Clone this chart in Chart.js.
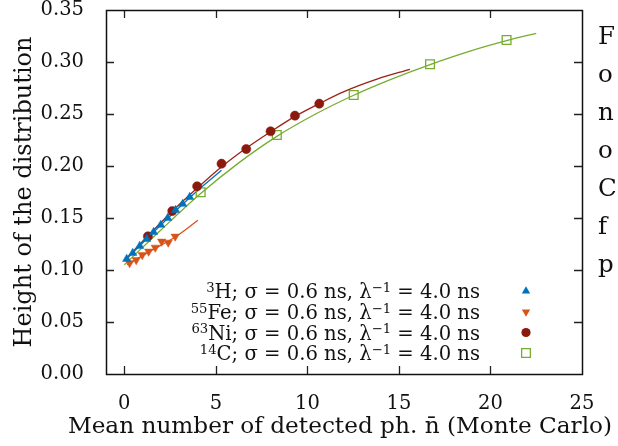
<!DOCTYPE html>
<html><head><meta charset="utf-8">
<script src="https://cdn.jsdelivr.net/npm/chart.js@4.4.0/dist/chart.umd.min.js"></script>
<style>html,body{margin:0;padding:0;background:#fff;overflow:hidden}canvas{display:block}</style>
</head><body>
<canvas id="c" width="618" height="446"></canvas>
<script>
// ---- data ----
const xTicks = [0, 5, 10, 15, 20, 25];
const yTicks = [0, 0.05, 0.10, 0.15, 0.20, 0.25, 0.30, 0.35];

// 3H (blue up-triangles)
const h3X = [0.13, 0.46, 0.84, 1.22, 1.60, 1.99, 2.37, 2.80, 3.19, 3.57];
const h3Y = [0.1106, 0.1163, 0.1231, 0.1298, 0.1365, 0.1433, 0.150, 0.1577, 0.1635, 0.1702];
const h3FitX = [0.1, 1.6, 3.2, 4.3, 5.31];
const h3FitY = [0.110, 0.1365, 0.1635, 0.181, 0.1959];

// 55Fe (orange down-triangles)
const fe55X = [0.29, 0.65, 0.98, 1.33, 1.69, 2.04, 2.40, 2.78];
const fe55Y = [0.1067, 0.1096, 0.1144, 0.1178, 0.1216, 0.1274, 0.1264, 0.1322];
const fe55FitX = [0.15, 1.3, 2.8, 4.02];
const fe55FitY = [0.105, 0.117, 0.132, 0.1478];

// 63Ni (dark red circles)
const ni63X = [1.29, 2.62, 3.98, 5.31, 6.66, 7.99, 9.32, 10.65];
const ni63Y = [0.1324, 0.1567, 0.1805, 0.2022, 0.2163, 0.2334, 0.2484, 0.2599];
const ni63FitX = [0.1, 1.3, 2.65, 4.0, 5.3, 6.65, 8.0, 9.3, 10.65, 12.0, 13.8, 15.6];
const ni63FitY = [0.111, 0.133, 0.157, 0.179, 0.199, 0.217, 0.233, 0.2475, 0.260, 0.2715, 0.2835, 0.293];

// 14C (green open squares)
const c14X = [4.17, 8.33, 12.53, 16.70, 20.88];
const c14Y = [0.1747, 0.2298, 0.2683, 0.2978, 0.3212];
const c14FitX = [0.0, 2.0, 4.17, 6.25, 8.33, 10.4, 12.53, 14.6, 16.7, 18.8, 20.88, 22.5];
const c14FitY = [0.105, 0.1385, 0.1735, 0.203, 0.2285, 0.2495, 0.268, 0.2835, 0.2975, 0.310, 0.3205, 0.3276];

// legend texts
const legendMass = ['3', '55', '63', '14'];
const legendSymbol = ['H', 'Fe', 'Ni', 'C'];
const legendSigma = ['0.6', '0.6', '0.6', '0.6'];
const legendLambdaInv = ['4.0', '4.0', '4.0', '4.0'];

const xTitle = 'Mean number of detected ph. n\u0304 (Monte Carlo)';
const yTitle = 'Height of the distribution';
// clipped letters of the surrounding page text at the right margin
const marginLetters = ['F', 'o', 'n', 'o', 'C', 'f', 'p'];

// ---- styles ----
const BLUE = '#0072BD', ORANGE = '#D95319', RED = '#8B1A0E', GREEN = '#77AC30';
const FONT = "'DejaVu Serif', serif";

const pts = (xs, ys) => xs.map((x, i) => ({x, y: ys[i]}));

const markerStyles = [
  {color: BLUE, style: 'triangle', rot: 0, r: 4.8, fill: true},
  {color: ORANGE, style: 'triangle', rot: 180, r: 4.8, fill: true},
  {color: RED, style: 'circle', rot: 0, r: 4.6, fill: true},
  {color: GREEN, style: 'rect', rot: 0, r: 6.2, fill: false}
];

function fitDs(xs, ys, color) {
  return {data: pts(xs, ys), showLine: true, borderColor: color, borderWidth: 1.3,
    pointRadius: 0, pointHoverRadius: 0, tension: 0.4, cubicInterpolationMode: 'monotone', order: 2, fill: false};
}
function markDs(xs, ys, m) {
  return {data: pts(xs, ys), showLine: false, pointStyle: m.style, rotation: m.rot,
    pointRadius: m.r, pointHoverRadius: m.r, borderColor: m.color, borderWidth: m.fill ? 0.5 : 1.3,
    backgroundColor: m.fill ? m.color : 'rgba(0,0,0,0)', order: 1};
}

const frameAndTicks = {
  id: 'frameAndTicks',
  afterDatasetsDraw(chart) {
    const {ctx, chartArea: a, scales: {x, y}} = chart;
    ctx.save();
    ctx.strokeStyle = '#222';
    ctx.lineWidth = 1.3;
    const L = 8;
    ctx.beginPath();
    xTicks.forEach(v => {
      const px = Math.round(x.getPixelForValue(v)) + 0.5;
      if (px <= a.left + 1 || px >= a.right - 1) return;
      ctx.moveTo(px, a.bottom); ctx.lineTo(px, a.bottom - L);
      ctx.moveTo(px, a.top); ctx.lineTo(px, a.top + L);
    });
    yTicks.forEach(v => {
      const py = Math.round(y.getPixelForValue(v)) + 0.5;
      if (py <= a.top + 1 || py >= a.bottom - 1) return;
      ctx.moveTo(a.left, py); ctx.lineTo(a.left + L, py);
      ctx.moveTo(a.right, py); ctx.lineTo(a.right - L, py);
    });
    ctx.stroke();
    ctx.lineWidth = 1.5;
    ctx.strokeStyle = '#111';
    ctx.strokeRect(Math.round(a.left) + 0.5, Math.round(a.top) + 0.5, Math.round(a.right - a.left), Math.round(a.bottom - a.top));
    ctx.restore();
  }
};

function drawMarker(ctx, m, cx, cy) {
  ctx.save();
  ctx.fillStyle = m.color; ctx.strokeStyle = m.color; ctx.lineWidth = 1.3;
  ctx.beginPath();
  if (m.style === 'circle') {
    ctx.arc(cx, cy, m.r, 0, Math.PI * 2);
  } else if (m.style === 'triangle') {
    const r = m.r, s = m.rot ? -1 : 1;
    ctx.moveTo(cx, cy - s * r);
    ctx.lineTo(cx - r * 0.866, cy + s * r * 0.5);
    ctx.lineTo(cx + r * 0.866, cy + s * r * 0.5);
    ctx.closePath();
  } else {
    const h = m.r * Math.SQRT1_2;
    ctx.rect(cx - h, cy - h, 2 * h, 2 * h);
  }
  if (m.fill) ctx.fill(); else ctx.stroke();
  ctx.restore();
}

const customLegend = {
  id: 'customLegend',
  afterDraw(chart) {
    const ctx = chart.ctx;
    const main = "19.6px " + FONT, sup = "13.2px " + FONT;
    const right = 480, baselines = [298, 319, 339.5, 360], markX = 526;
    ctx.save();
    ctx.fillStyle = '#111';
    ctx.textBaseline = 'alphabetic';
    ctx.textAlign = 'left';
    legendMass.forEach((mass, i) => {
      const segs = [
        {t: mass, s: true},
        {t: legendSymbol[i] + '; \u03c3 = ' + legendSigma[i] + ' ns, \u03bb', s: false},
        {t: '\u22121', s: true},
        {t: ' = ' + legendLambdaInv[i] + ' ns', s: false}
      ];
      let w = 0;
      segs.forEach(sg => { ctx.font = sg.s ? sup : main; sg.w = ctx.measureText(sg.t).width; w += sg.w; });
      let xx = right - w;
      segs.forEach(sg => {
        ctx.font = sg.s ? sup : main;
        ctx.fillText(sg.t, xx, baselines[i] - (sg.s ? 6.5 : 0));
        xx += sg.w;
      });
      drawMarker(ctx, markerStyles[i], markX, baselines[i] - 7);
    });
    // x-axis title (drawn here so it may be wider than the plot area)
    ctx.font = "23.2px " + FONT;
    ctx.textAlign = 'center';
    ctx.fillText(xTitle, 340, 433);
    // page text clipped at the right margin
    ctx.textAlign = 'left';
    ctx.font = "24.5px " + FONT;
    marginLetters.forEach((ch, k) => ctx.fillText(ch, 598, 44 + 38 * k));
    ctx.restore();
  }
};

const tickFont = {family: FONT, size: 19.5};

new Chart(document.getElementById('c'), {
  type: 'scatter',
  data: {
    datasets: [
      markDs(h3X, h3Y, markerStyles[0]),
      markDs(fe55X, fe55Y, markerStyles[1]),
      markDs(ni63X, ni63Y, markerStyles[2]),
      markDs(c14X, c14Y, markerStyles[3]),
      fitDs(h3FitX, h3FitY, BLUE),
      fitDs(fe55FitX, fe55FitY, ORANGE),
      fitDs(ni63FitX, ni63FitY, '#9A2214'),
      fitDs(c14FitX, c14FitY, GREEN)
    ]
  },
  options: {
    responsive: false,
    animation: false,
    devicePixelRatio: 1,
    layout: {padding: {left: 0, top: 10, right: 36, bottom: 0}},
    plugins: {legend: {display: false}, tooltip: {enabled: false}},
    scales: {
      x: {
        type: 'linear', min: -1, max: 25,
        grid: {display: false, drawTicks: false},
        border: {display: false},
        afterBuildTicks: s => { s.ticks = xTicks.map(v => ({value: v})); },
        afterFit: s => { s.height = 72; s.paddingLeft = 0; s.paddingRight = 0; },
        ticks: {font: tickFont, color: '#111', padding: 18, maxRotation: 0, autoSkip: false,
          callback: v => String(v)},
        title: {display: false}
      },
      y: {
        type: 'linear', min: 0, max: 0.35,
        grid: {display: false, drawTicks: false},
        border: {display: false},
        afterBuildTicks: s => { s.ticks = yTicks.map(v => ({value: v})); },
        afterFit: s => { s.width = 106; s.paddingTop = 0; s.paddingBottom = 0; },
        ticks: {font: tickFont, color: '#111', padding: 22, autoSkip: false,
          callback: v => Number(v).toFixed(2)},
        title: {display: true, text: yTitle, font: {family: FONT, size: 24}, color: '#111',
          padding: {top: 10.5, bottom: 0}}
      }
    }
  },
  plugins: [frameAndTicks, customLegend]
});
</script>
</body></html>
